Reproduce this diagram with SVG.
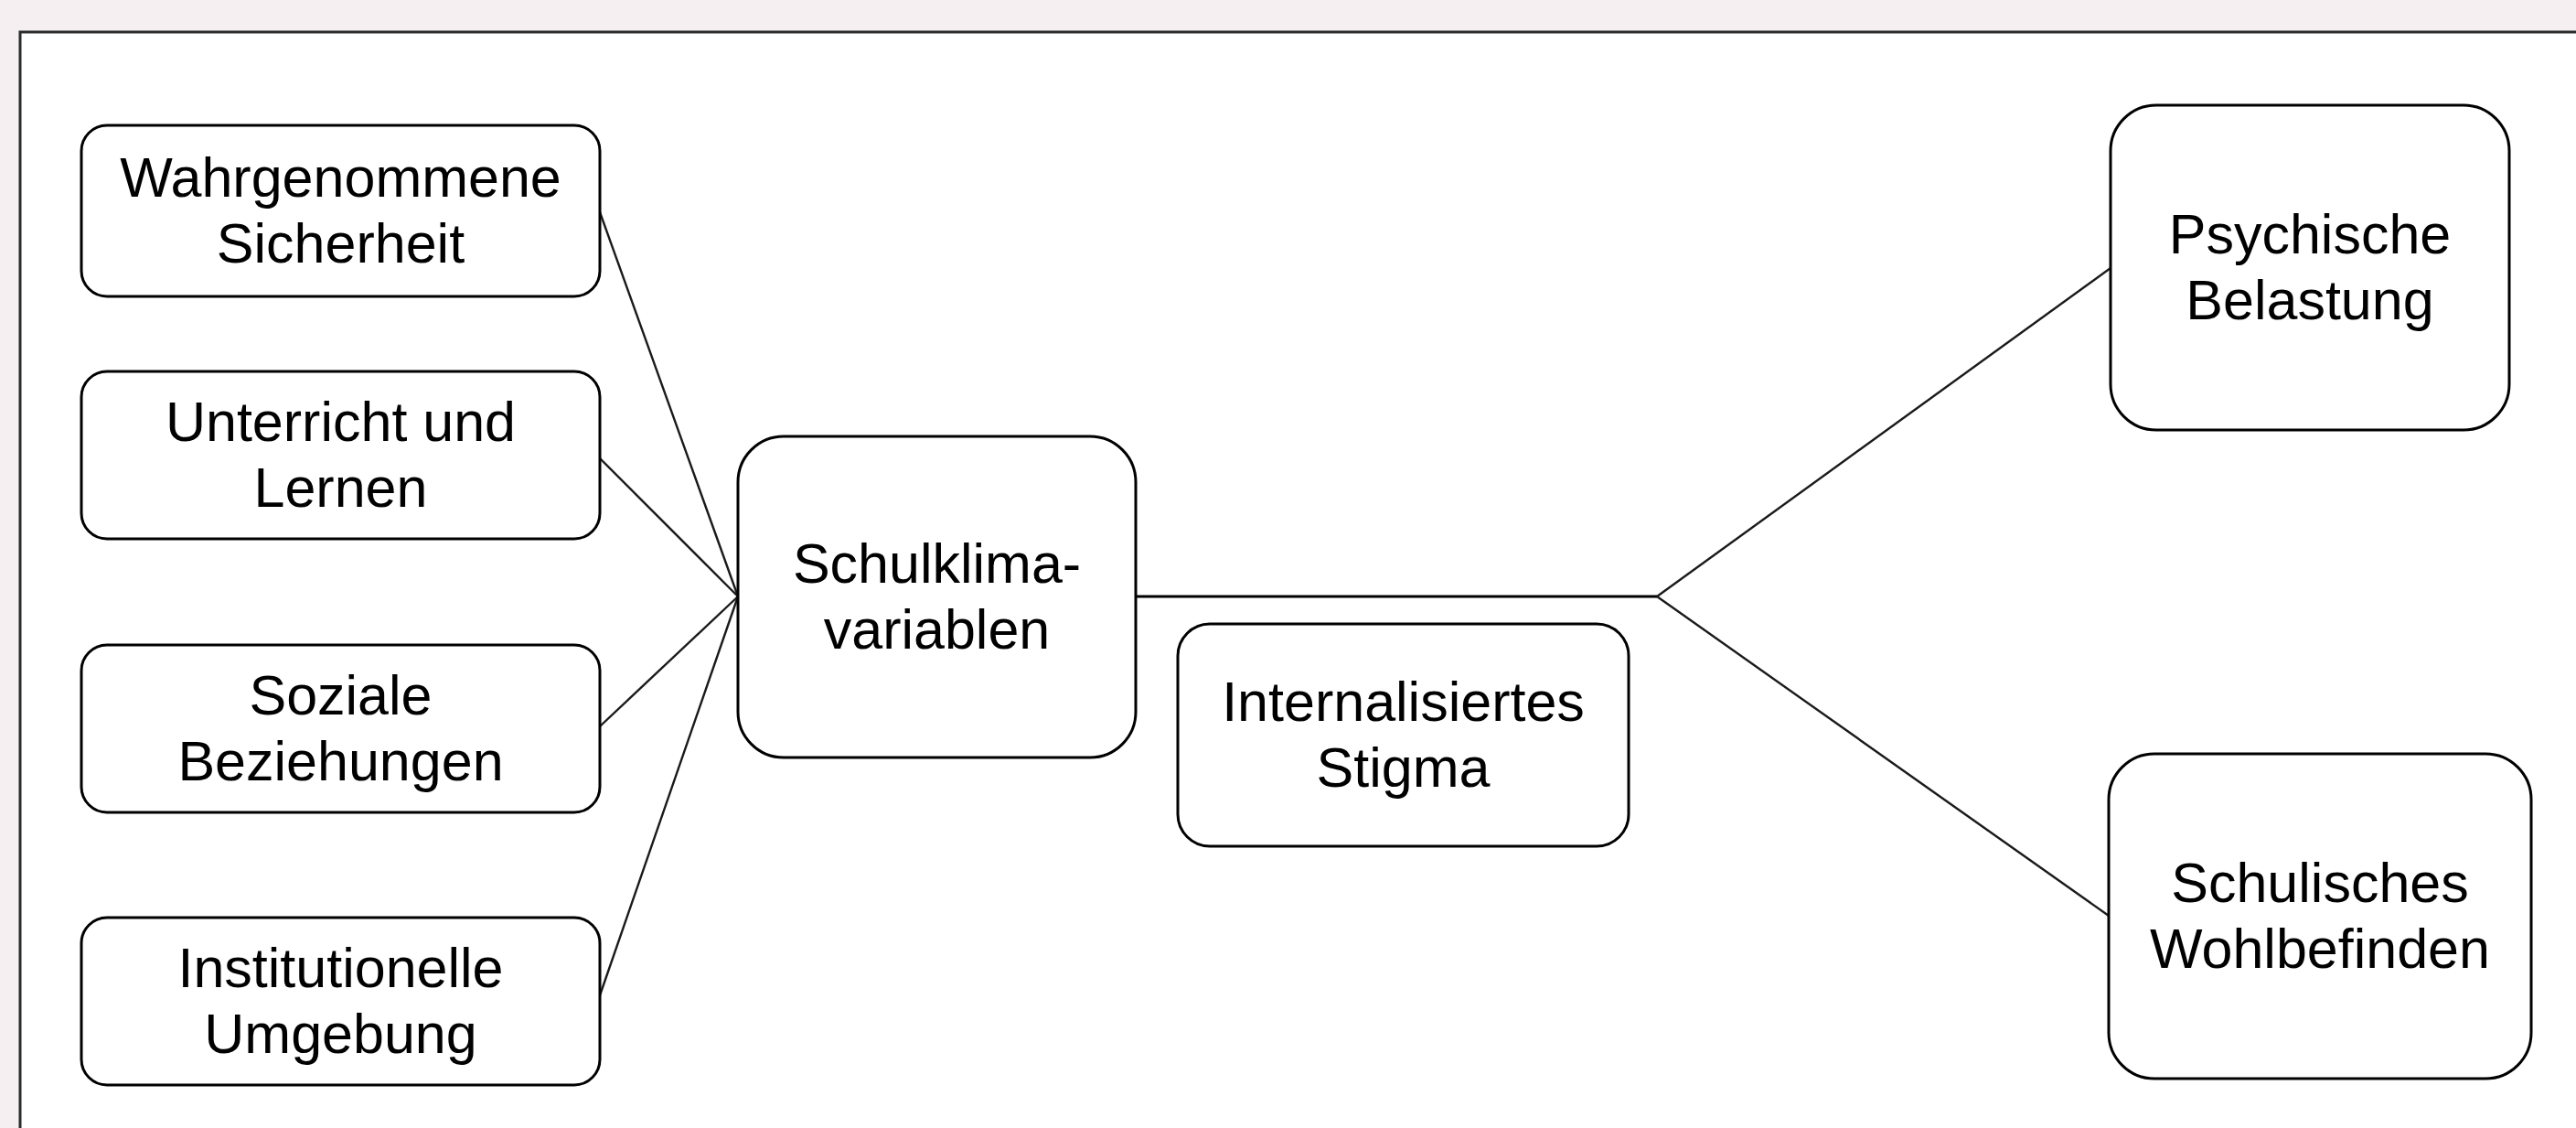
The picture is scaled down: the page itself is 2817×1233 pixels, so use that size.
<svg xmlns="http://www.w3.org/2000/svg" width="2817" height="1233" viewBox="0 0 2817 1233">
<style>
.node rect{fill:#ffffff;stroke:#000000;stroke-width:3}
.node text{font-family:"Liberation Sans",Arial,sans-serif;font-size:61px;fill:#000000;text-anchor:middle}
.conn line{stroke:#1a1a1a;stroke-width:2.4;fill:none}
.conn line.main{stroke:#000000;stroke-width:3}
</style>
<rect x="0" y="0" width="2817" height="1233" fill="#f5eff1"/>
<rect x="22" y="35" width="2830" height="1240" fill="#ffffff" stroke="#2b2b2b" stroke-width="3"/>
<g id="connectors" class="conn">
<line x1="656" y1="232" x2="807" y2="652"/>
<line x1="656" y1="501" x2="807" y2="652"/>
<line x1="656" y1="794" x2="807" y2="652"/>
<line x1="656" y1="1088" x2="807" y2="652"/>
<line class="main" x1="1242" y1="652" x2="1812" y2="652"/>
<line x1="1812" y1="652" x2="2308" y2="293"/>
<line x1="1812" y1="652" x2="2306" y2="1001"/>
</g>
<g id="n-sicherheit" class="node">
<rect x="89" y="137" width="567" height="187" rx="28" ry="28"/>
<text x="372.5" y="214.5">Wahrgenommene</text>
<text x="372.5" y="286.5">Sicherheit</text>
</g>
<g id="n-unterricht" class="node">
<rect x="89" y="406" width="567" height="183" rx="28" ry="28"/>
<text x="372.5" y="481.5">Unterricht und</text>
<text x="372.5" y="553.5">Lernen</text>
</g>
<g id="n-sozial" class="node">
<rect x="89" y="705" width="567" height="183" rx="28" ry="28"/>
<text x="372.5" y="780.5">Soziale</text>
<text x="372.5" y="852.5">Beziehungen</text>
</g>
<g id="n-institution" class="node">
<rect x="89" y="1003" width="567" height="183" rx="28" ry="28"/>
<text x="372.5" y="1078.5">Institutionelle</text>
<text x="372.5" y="1150.5">Umgebung</text>
</g>
<g id="n-schulklima" class="node">
<rect x="807" y="477" width="435" height="351" rx="50" ry="50"/>
<text x="1024.5" y="636.5">Schulklima-</text>
<text x="1024.5" y="708.5">variablen</text>
</g>
<g id="n-stigma" class="node">
<rect x="1288" y="682" width="493" height="243" rx="35" ry="35"/>
<text x="1534.5" y="787.5">Internalisiertes</text>
<text x="1534.5" y="859.5">Stigma</text>
</g>
<g id="n-belastung" class="node">
<rect x="2308" y="115" width="436" height="355" rx="50" ry="50"/>
<text x="2526" y="276.5">Psychische</text>
<text x="2526" y="348.5">Belastung</text>
</g>
<g id="n-wohlbefinden" class="node">
<rect x="2306" y="824" width="462" height="355" rx="50" ry="50"/>
<text x="2537" y="985.5">Schulisches</text>
<text x="2537" y="1057.5">Wohlbefinden</text>
</g>
</svg>
